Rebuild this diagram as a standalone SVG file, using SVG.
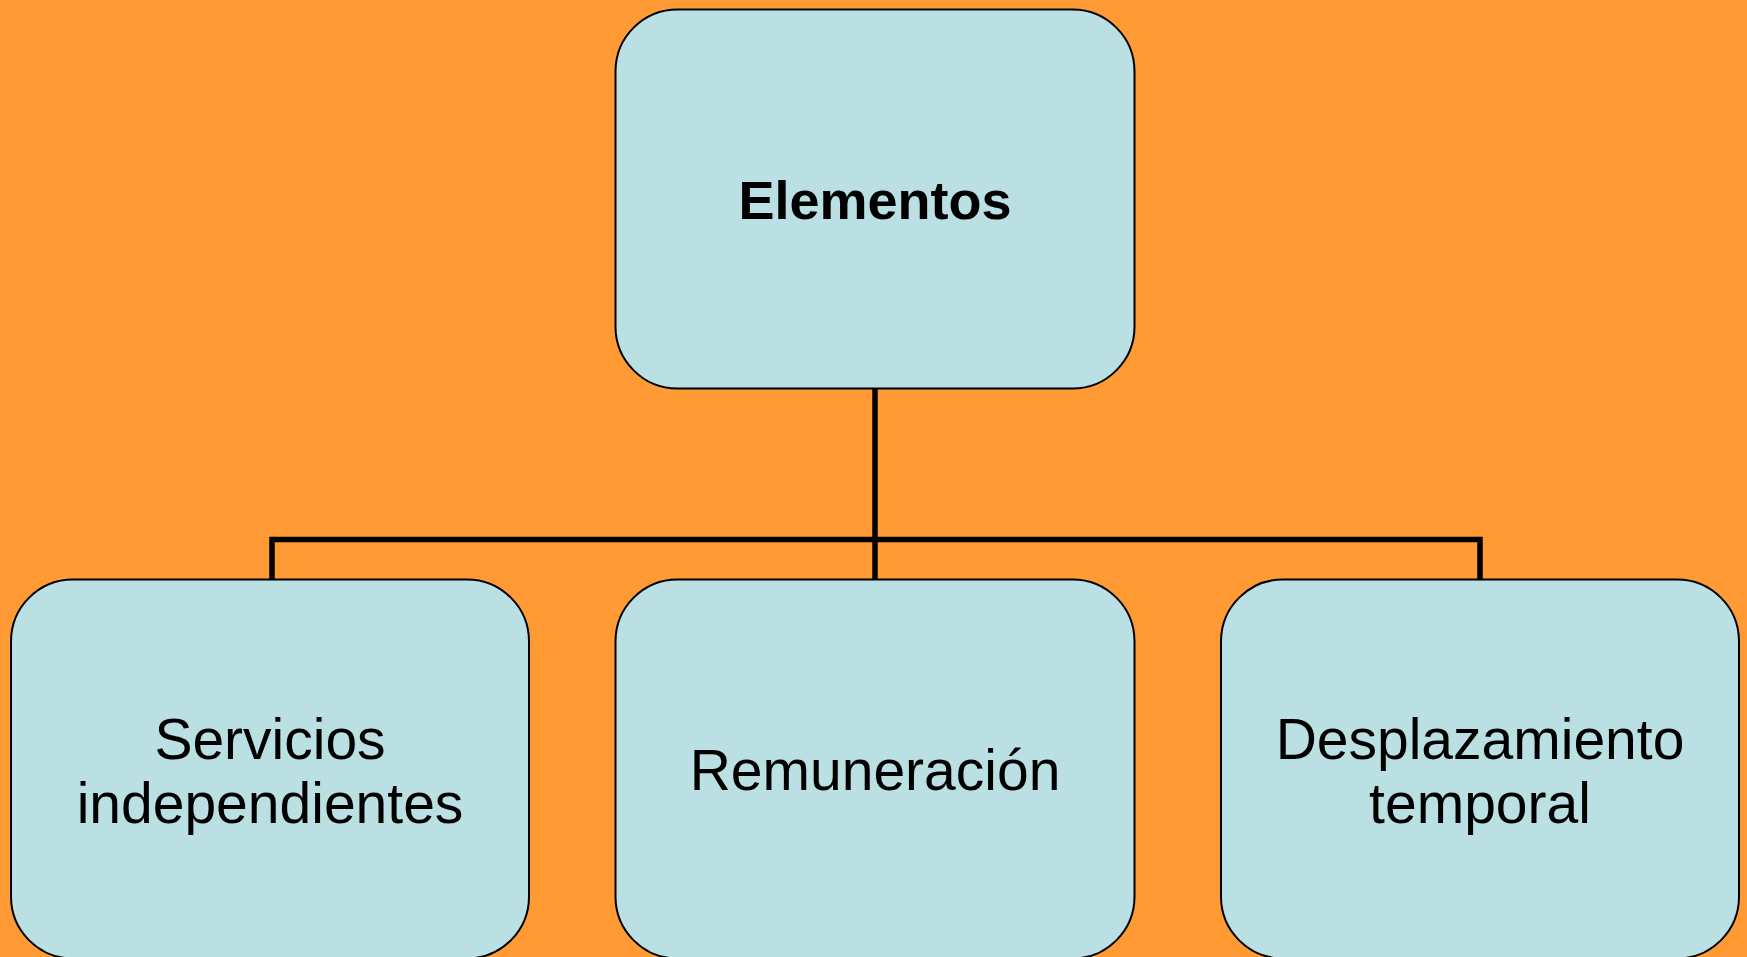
<svg xmlns="http://www.w3.org/2000/svg" width="1747" height="957" viewBox="0 0 1747 957">
  <style>
    .box { fill: #BBE0E3; stroke: #000; stroke-width: 2; }
    .conn { fill: none; stroke: #000; stroke-width: 5.5; }
    .lbl { font-family: "Comic Sans MS", "Liberation Sans", sans-serif; font-size: 57px; fill: #000; text-anchor: middle; }
    .bold { font-weight: bold; font-size: 54px; }
  </style>
  <rect x="0" y="0" width="1747" height="957" fill="#FF9A35"/>
  <g id="connectors">
    <path class="conn" d="M875,388 V579"/>
    <path class="conn" d="M272,580 V539.5 H1480 V580"/>
  </g>
  <g id="node-elementos">
    <rect class="box" x="615.5" y="9.5" width="519" height="379" rx="62" ry="62"/>
    <text class="lbl bold" x="875" y="219">Elementos</text>
  </g>
  <g id="node-servicios">
    <rect class="box" x="11" y="579.5" width="518" height="379" rx="62" ry="62"/>
    <text class="lbl" x="270" y="759">Servicios</text>
    <text class="lbl" x="270" y="823">independientes</text>
  </g>
  <g id="node-remuneracion">
    <rect class="box" x="615.5" y="579.5" width="519" height="379" rx="62" ry="62"/>
    <text class="lbl" x="875" y="790">Remuneración</text>
  </g>
  <g id="node-desplazamiento">
    <rect class="box" x="1221" y="579.5" width="518" height="379" rx="62" ry="62"/>
    <text class="lbl" x="1480" y="759">Desplazamiento</text>
    <text class="lbl" x="1480" y="823">temporal</text>
  </g>
</svg>
